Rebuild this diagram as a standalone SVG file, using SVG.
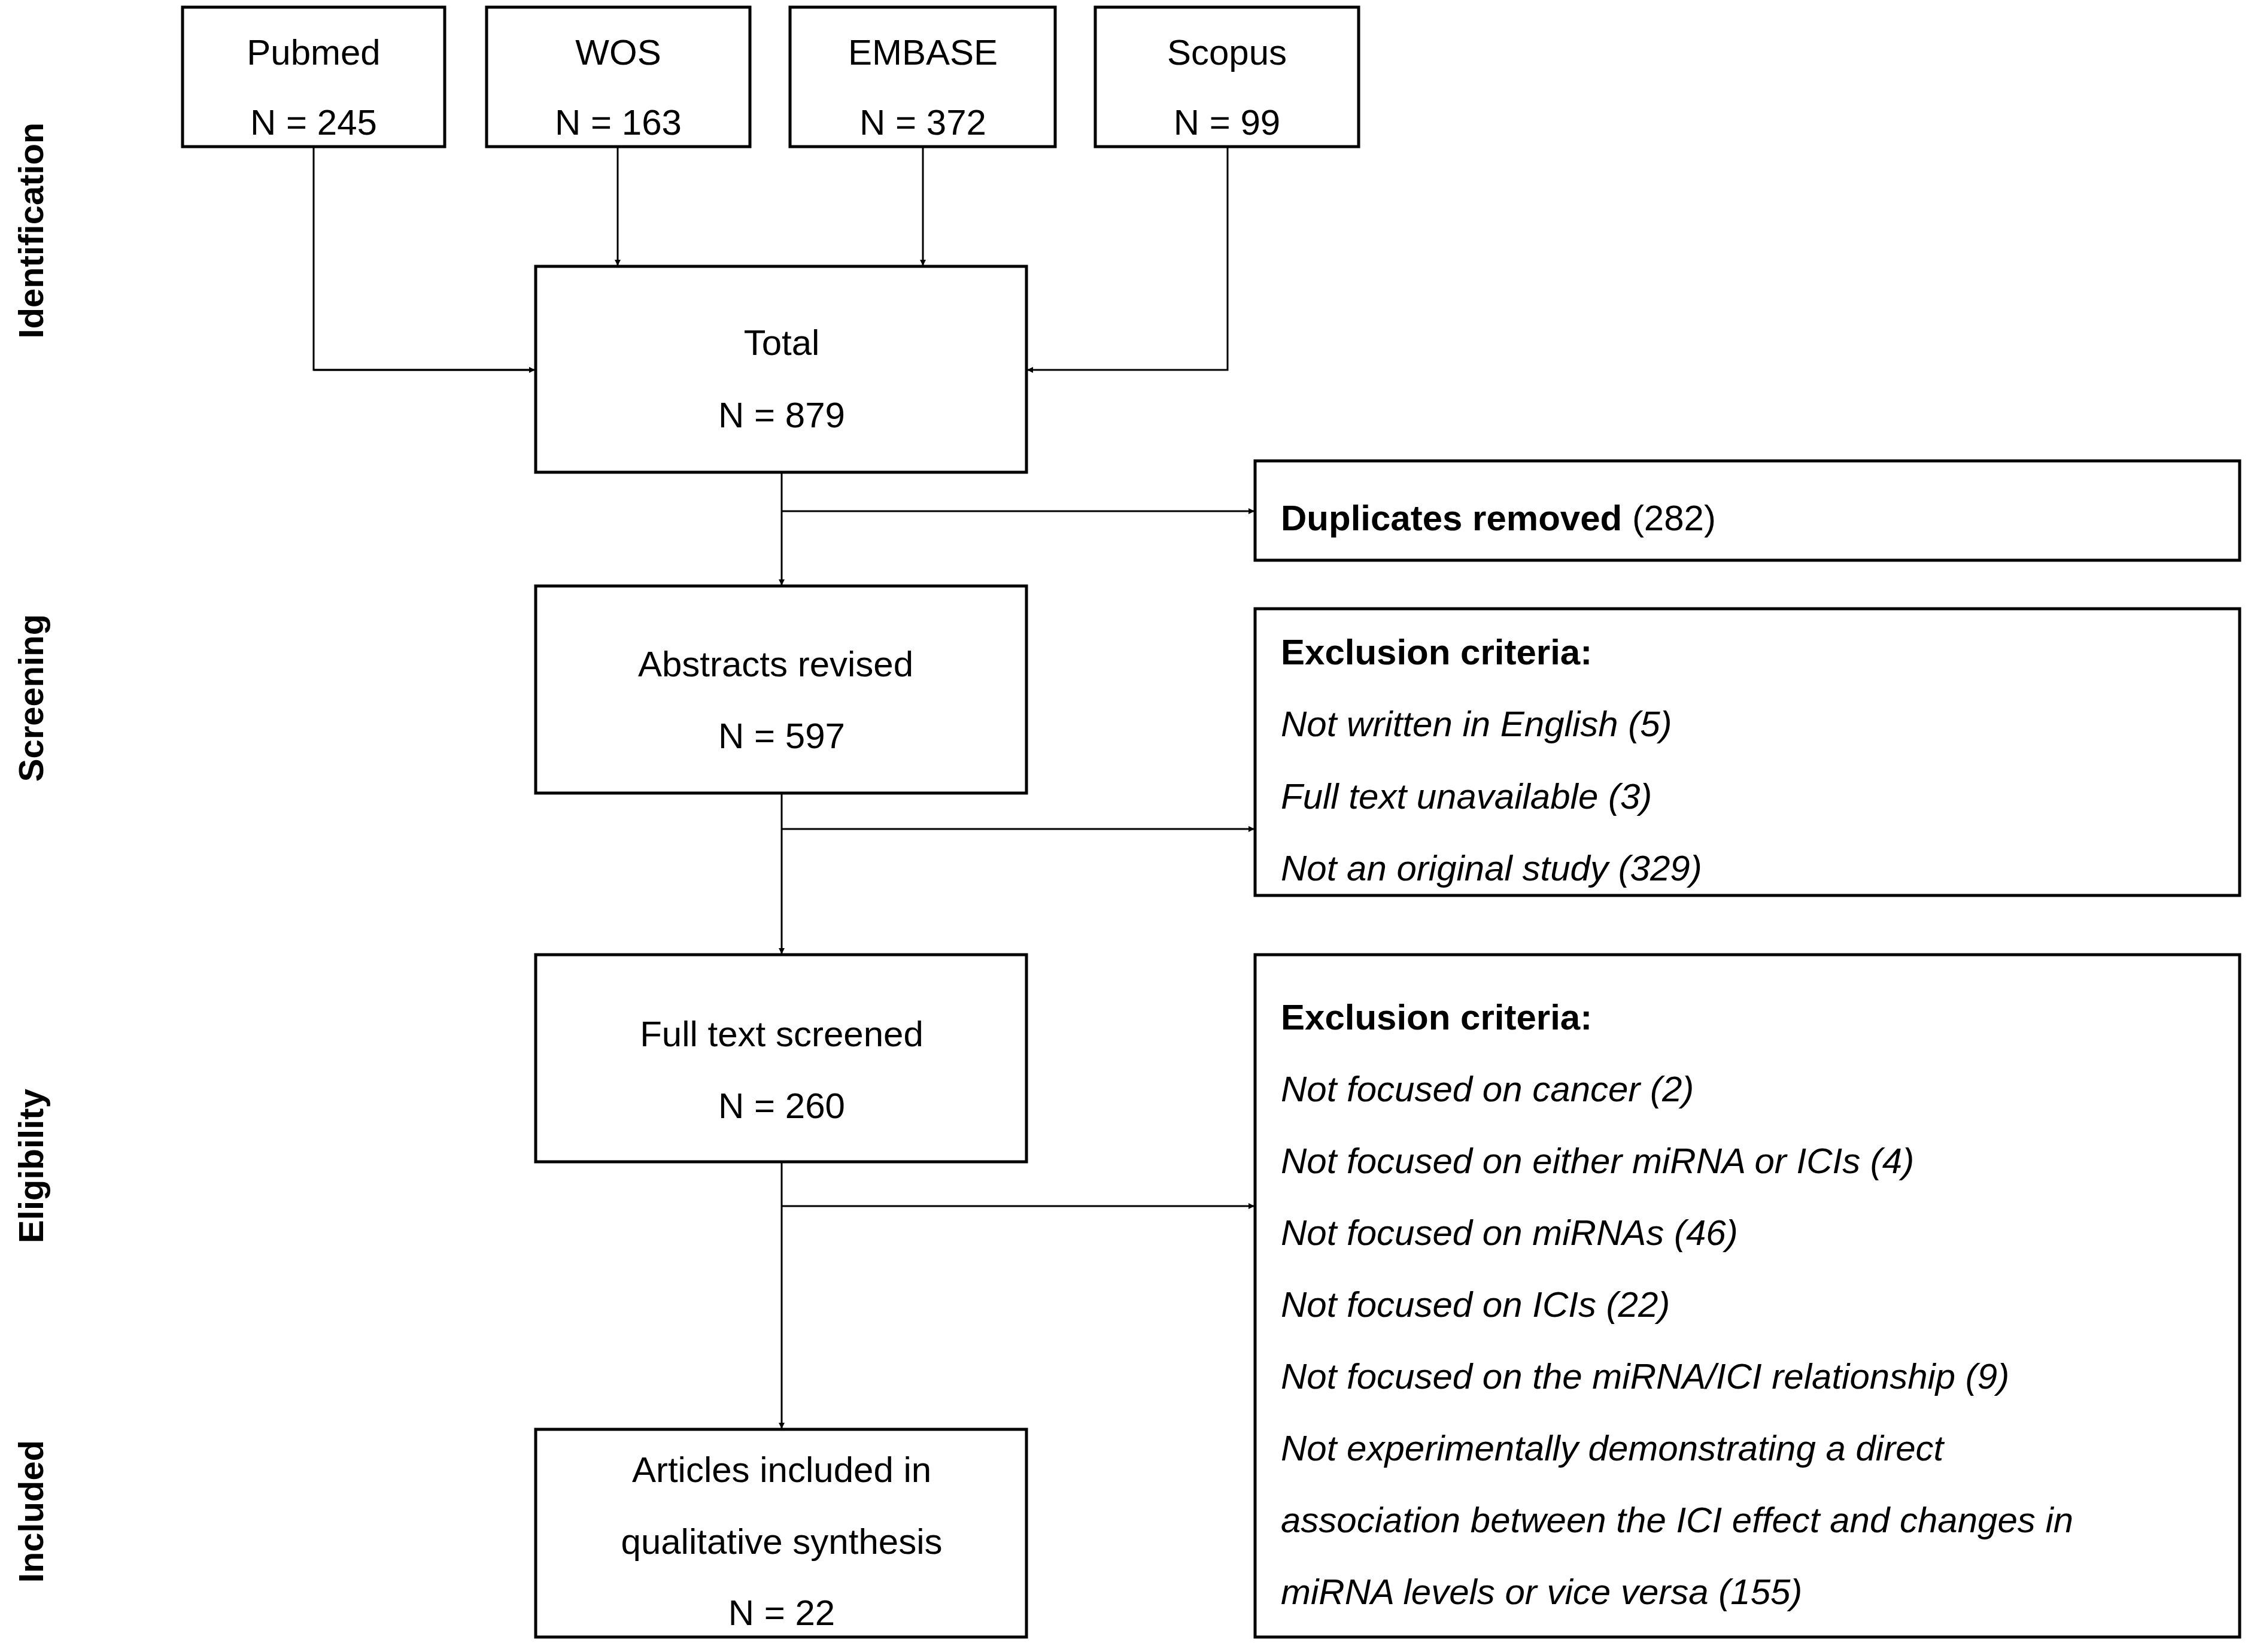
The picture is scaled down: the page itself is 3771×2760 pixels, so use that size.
<svg xmlns="http://www.w3.org/2000/svg" width="3771" height="2760" viewBox="0 0 3771 2760">
<style>
text{font-family:"Liberation Sans",Arial,sans-serif;font-size:60px;fill:#000}
.c{text-anchor:middle}
.b{font-weight:bold}
.i{font-style:italic}
.side{font-weight:bold;font-size:58px;text-anchor:middle}
rect{fill:#fff;stroke:#000;stroke-width:5}
.con path{fill:none;stroke:#000;stroke-width:3;marker-end:url(#a)}
</style>
<defs><marker id="a" markerWidth="10" markerHeight="10" refX="9" refY="5" orient="auto" markerUnits="userSpaceOnUse" viewBox="0 0 10 10"><path d="M0,0L10,5L0,10z" fill="#000"/></marker>
</defs>
<rect width="3771" height="2760" style="fill:#fff;stroke:none"/>
<g id="labels">
<text class="side" transform="translate(72,385) rotate(-90)">Identification</text>
<text class="side" transform="translate(72,1166) rotate(-90)">Screening</text>
<text class="side" transform="translate(72,1948) rotate(-90)">Eligibility</text>
<text class="side" transform="translate(72,2525) rotate(-90)">Included</text>
</g>
<g class="con" id="connectors">
<path d="M524,245V618H889" style="marker-end:none"/>
<path d="M524,618H893"/>
<path d="M2051,245V618H1717"/>
<path d="M1032,245V443"/>
<path d="M1542,245V443"/>
<path d="M1306,789V977"/>
<path d="M1306,854H2095"/>
<path d="M1306,1325V1593"/>
<path d="M1306,1385H2095"/>
<path d="M1306,1941V2386"/>
<path d="M1306,2015H2095"/>
</g>
<g id="pubmed"><rect x="305" y="12" width="438" height="233"/><text class="c" x="524" y="108">Pubmed</text><text class="c" x="524" y="225">N = 245</text></g>
<g id="wos"><rect x="813" y="12" width="440" height="233"/><text class="c" x="1033" y="108">WOS</text><text class="c" x="1033" y="225">N = 163</text></g>
<g id="embase"><rect x="1320" y="12" width="443" height="233"/><text class="c" x="1542" y="108">EMBASE</text><text class="c" x="1542" y="225">N = 372</text></g>
<g id="scopus"><rect x="1830" y="12" width="440" height="233"/><text class="c" x="2050" y="108">Scopus</text><text class="c" x="2050" y="225">N = 99</text></g>
<g id="total"><rect x="895" y="445" width="820" height="344"/><text class="c" x="1306" y="593">Total</text><text class="c" x="1306" y="714">N = 879</text></g>
<g id="duplicates"><rect x="2097" y="770" width="1645" height="166"/><text x="2140" y="886"><tspan class="b">Duplicates removed</tspan> (282)</text></g>
<g id="abstracts"><rect x="895" y="979" width="820" height="346"/><text class="c" x="1296" y="1130">Abstracts revised</text><text class="c" x="1306" y="1250">N = 597</text></g>
<g id="excl1"><rect x="2097" y="1017" width="1645" height="479"/>
<text x="2140" y="1110" class="b">Exclusion criteria:</text>
<text x="2140" y="1230" class="i">Not written in English (5)</text>
<text x="2140" y="1351" class="i">Full text unavailable (3)</text>
<text x="2140" y="1471" class="i">Not an original study (329)</text></g>
<g id="fulltext"><rect x="895" y="1595" width="820" height="346"/><text class="c" x="1306" y="1748">Full text screened</text><text class="c" x="1306" y="1868">N = 260</text></g>
<g id="excl2"><rect x="2097" y="1595" width="1645" height="1140"/>
<text x="2140" y="1720" class="b">Exclusion criteria:</text>
<text x="2140" y="1840" class="i">Not focused on cancer (2)</text>
<text x="2140" y="1960" class="i">Not focused on either miRNA or ICIs (4)</text>
<text x="2140" y="2080" class="i">Not focused on miRNAs (46)</text>
<text x="2140" y="2200" class="i">Not focused on ICIs (22)</text>
<text x="2140" y="2320" class="i">Not focused on the miRNA/ICI relationship (9)</text>
<text x="2140" y="2440" class="i">Not experimentally demonstrating a direct</text>
<text x="2140" y="2560" class="i">association between the ICI effect and changes in</text>
<text x="2140" y="2680" class="i">miRNA levels or vice versa (155)</text></g>
<g id="articles"><rect x="895" y="2388" width="820" height="347"/><text class="c" x="1306" y="2476">Articles included in</text><text class="c" x="1306" y="2596">qualitative synthesis</text><text class="c" x="1306" y="2715">N = 22</text></g>
</svg>
